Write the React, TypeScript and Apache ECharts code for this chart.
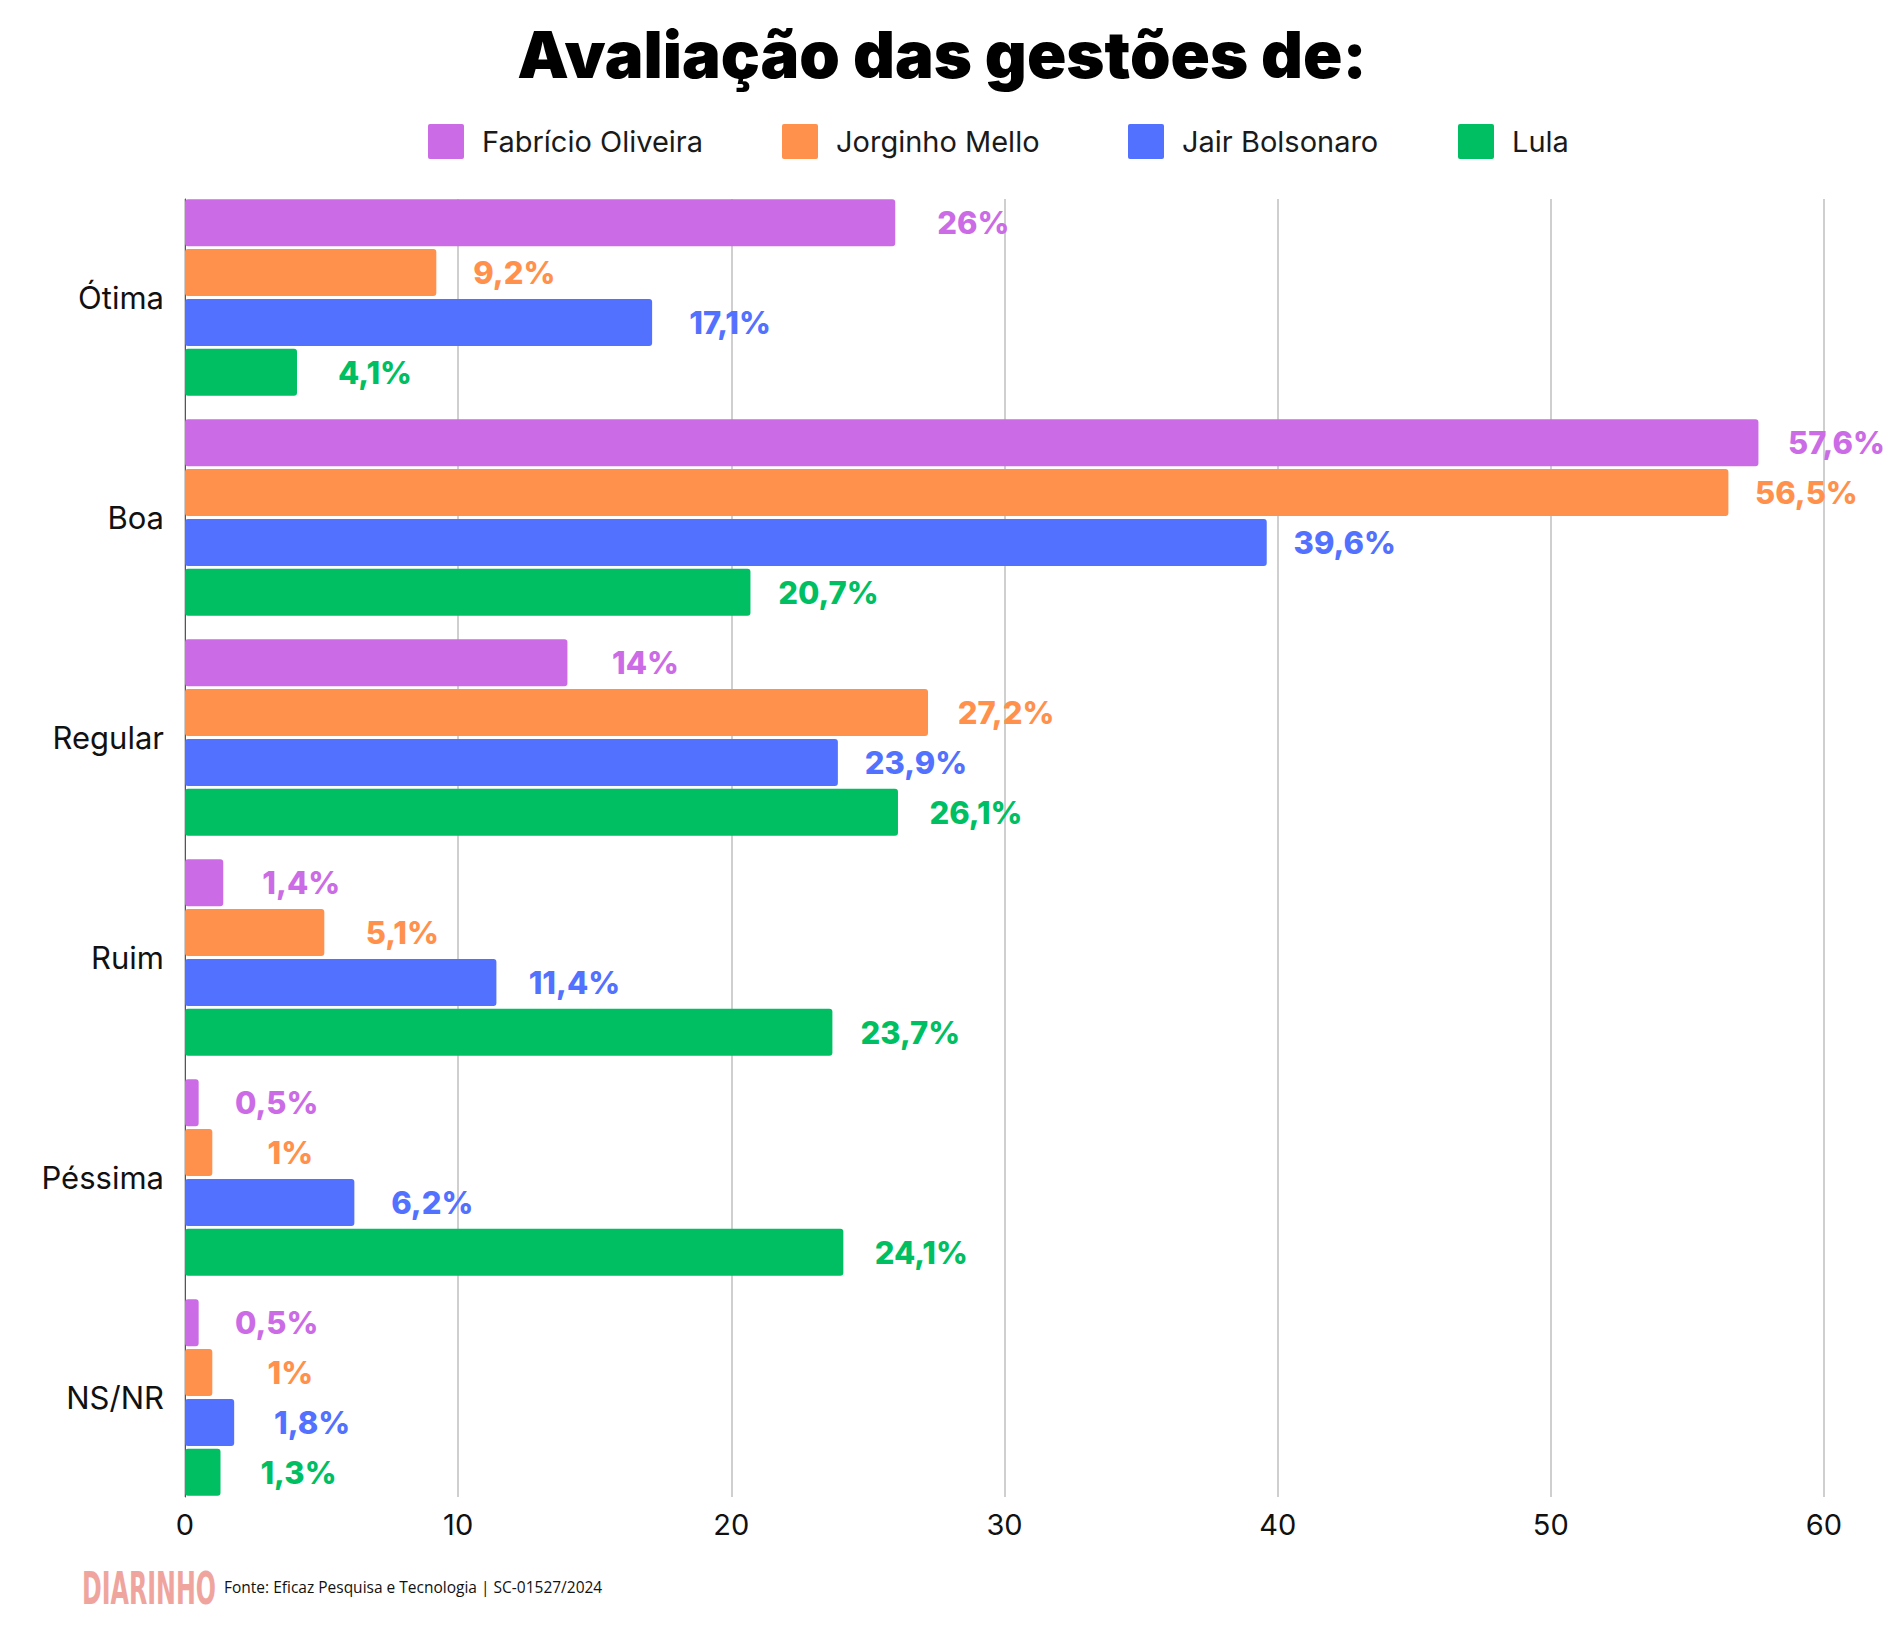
import React, { useEffect, useRef } from 'react';
import * as echarts from 'echarts';

const categories = ['Ótima', 'Boa', 'Regular', 'Ruim', 'Péssima', 'NS/NR'];
const seriesNames = ['Fabrício Oliveira', 'Jorginho Mello', 'Jair Bolsonaro', 'Lula'];
const fabricio = [26, 57.6, 14, 1.4, 0.5, 0.5];
const jorginho = [9.2, 56.5, 27.2, 5.1, 1, 1];
const jair = [17.1, 39.6, 23.9, 11.4, 6.2, 1.8];
const lula = [4.1, 20.7, 26.1, 23.7, 24.1, 1.3];
const seriesValues = [fabricio, jorginho, jair, lula];
const colors = ['#CB6CE6', '#FF914D', '#5271FF', '#00BF63'];
const legendLefts = [423, 777, 1123, 1453];
const xMin = 0;
const xMax = 60;
const xInterval = 10;
const titleText = 'Avaliação das gestões de:';
const logoText = 'DIARINHO';
const sourceText = 'Fonte: Eficaz Pesquisa e Tecnologia | SC-01527/2024';

const fmt = (v: number) => String(v).replace('.', ',') + '%';

export default function App() {
  const ref = useRef<HTMLDivElement>(null);
  useEffect(() => {
    if (!ref.current) return;
    const chart = echarts.init(ref.current, null, { renderer: 'svg' });
    const font = 'Inter, "Noto Sans", sans-serif';
    chart.setOption({
      animation: false,
      backgroundColor: '#ffffff',
      legend: seriesNames.map((name, i) => ({
        data: [name],
        left: legendLefts[i],
        top: 119,
        icon: 'path://M2,0h32a2,2 0 0 1 2,2v31a2,2 0 0 1 -2,2h-32a2,2 0 0 1 -2,-2v-31a2,2 0 0 1 2,-2z',
        itemWidth: 36,
        itemHeight: 35,
        textStyle: { fontFamily: font, fontSize: 29, color: '#1a1a1a', padding: [0, 0, 0, 13] },
      })),
      grid: [
        { left: 185, right: 76, top: 199, bottom: 128 },
        { left: 185, right: 76, top: 187.5, bottom: 117.5 },
      ],
      xAxis: [
        {
          gridIndex: 0,
          type: 'value',
          min: xMin,
          max: xMax,
          interval: xInterval,
          axisLine: { show: false },
          axisTick: { show: false },
          splitLine: { show: true, lineStyle: { color: '#cfcfcf', width: 2 } },
          axisLabel: { fontFamily: font, fontSize: 29, color: '#111', margin: 13 },
        },
        { gridIndex: 1, type: 'value', min: xMin, max: xMax, show: false },
      ],
      yAxis: [
        {
          gridIndex: 0,
          type: 'category',
          data: categories,
          inverse: true,
          axisLine: { show: true, lineStyle: { color: '#555', width: 1 } },
          axisTick: { show: false },
          axisLabel: { show: false },
          splitLine: { show: false },
        },
        {
          gridIndex: 1,
          type: 'category',
          data: categories,
          inverse: true,
          axisLine: { show: false },
          axisTick: { show: false },
          splitLine: { show: false },
          axisLabel: { fontFamily: font, fontSize: 31, color: '#111', margin: 21 },
        },
      ],
      series: seriesNames.map((name, i) => ({
        type: 'bar',
        name,
        data: seriesValues[i],
        xAxisIndex: 1,
        yAxisIndex: 1,
        barWidth: 47,
        barGap: '6%',
        itemStyle: { color: colors[i], borderRadius: 3 },
        label: {
          show: true,
          position: 'right',
          distance: 78,
          align: 'center',
          verticalAlign: 'middle',
          color: colors[i],
          fontFamily: font,
          fontWeight: 800,
          fontSize: 31,
          formatter: (p: any) => fmt(p.value),
        },
      })),
      graphic: [
        {
          type: 'text',
          x: 942,
          y: 54,
          style: {
            text: titleText,
            textAlign: 'center',
            textVerticalAlign: 'middle',
            fontFamily: font,
            fontWeight: 900,
            fontSize: 65,
            fill: '#000',
          },
        },
        {
          type: 'text',
          x: 82,
          y: 1589,
          scaleX: 0.88,
          scaleY: 1.5,
          style: {
            text: logoText,
            textAlign: 'left',
            textVerticalAlign: 'middle',
            fontFamily: '"Liberation Sans Narrow", "DejaVu Sans Condensed", sans-serif',
            fontWeight: 'bold',
            fontSize: 30,
            fill: '#EFA59D',
          },
        },
        {
          type: 'text',
          x: 224,
          y: 1587,
          style: {
            text: sourceText,
            textAlign: 'left',
            textVerticalAlign: 'middle',
            fontFamily: '"Open Sans", sans-serif',
            fontSize: 15.5,
            fill: '#111',
          },
        },
      ],
    });
    return () => chart.dispose();
  }, []);
  return (
    <div
      ref={ref}
      style={{ position: 'absolute', left: 0, top: 0, width: 1900, height: 1625, background: '#fff' }}
    />
  );
}
